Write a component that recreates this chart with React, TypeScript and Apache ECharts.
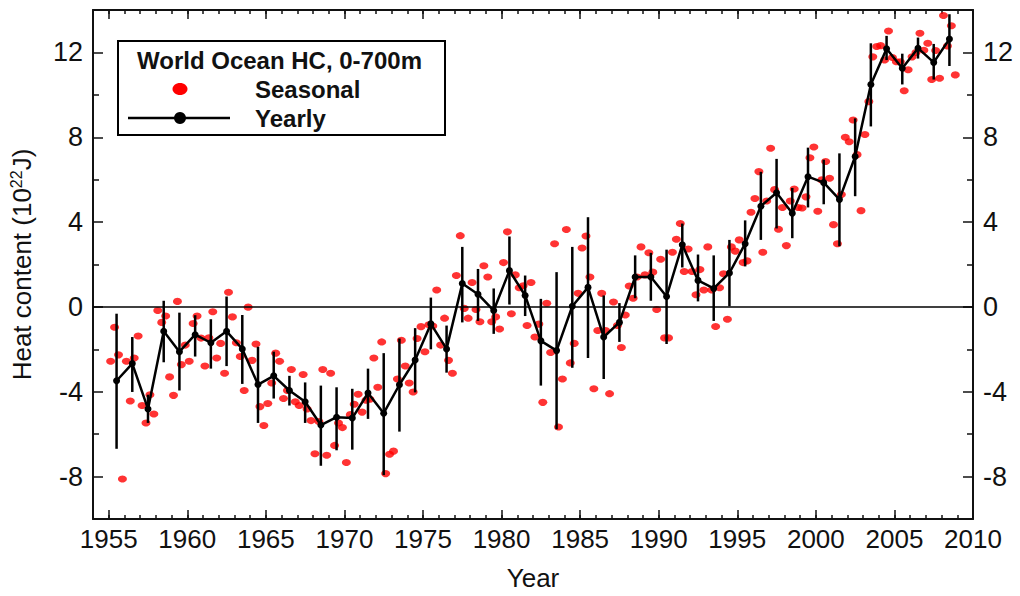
import React, { useEffect, useRef } from "react";
import * as echarts from "echarts";

// ---------- data ----------
const years = [
  1955, 1956, 1957, 1958, 1959, 1960, 1961, 1962, 1963, 1964,
  1965, 1966, 1967, 1968, 1969, 1970, 1971, 1972, 1973, 1974,
  1975, 1976, 1977, 1978, 1979, 1980, 1981, 1982, 1983, 1984,
  1985, 1986, 1987, 1988, 1989, 1990, 1991, 1992, 1993, 1994,
  1995, 1996, 1997, 1998, 1999, 2000, 2001, 2002, 2003, 2004,
  2005, 2006, 2007, 2008,
];

const yearlyHC = [
  -3.48, -2.67, -4.81, -1.15, -2.11, -1.31, -1.69, -1.15, -1.98, -3.66,
  -3.25, -3.94, -4.47, -5.57, -5.2, -5.24, -4.06, -5.01, -3.67, -2.5,
  -0.8, -1.98, 1.1, 0.6, -0.17, 1.71, 0.54, -1.6, -2.06, 0.03,
  0.92, -1.42, -0.73, 1.41, 1.41, 0.49, 2.93, 1.25, 0.87, 1.6,
  2.98, 4.75, 5.38, 4.42, 6.14, 5.86, 5.07, 7.09, 10.49, 12.17,
  11.25, 12.2, 11.53, 12.63,
];

const yearlyLow = [
  -6.69, -4.01, -5.47, -2.61, -3.94, -2.34, -2.91, -2.79, -3.63, -5.47,
  -4.32, -4.65, -5.47, -7.49, -6.76, -6.73, -5.28, -7.93, -5.88, -4.03,
  -2.0, -3.1, -0.73, -0.66, -1.27, 0.11, -0.43, -3.71, -5.77, -2.87,
  -2.41, -3.4, -1.65, 0.41, 0.29, -1.75, 1.86, 0.26, -0.66, 0.03,
  1.91, 3.16, 3.7, 3.24, 4.69, 4.84, 2.86, 5.22, 8.51, 11.64,
  10.49, 11.71, 10.72, 11.36,
];

const yearlyHigh = [
  -0.32, -1.42, -4.14, 0.29, -0.27, -0.39, -0.58, 0.49, -0.38, -1.88,
  -2.11, -3.25, -3.56, -3.71, -3.79, -3.86, -2.91, -2.18, -1.49, -1.0,
  0.44, -0.88, 2.83, 1.79, 0.87, 3.32, 1.48, 0.38, 1.64, 2.83,
  4.23, 0.54, 0.18, 2.43, 2.55, 2.7, 3.93, 2.47, 2.43, 3.16,
  4.08, 6.37, 6.98, 5.61, 7.51, 6.94, 7.24, 8.89, 12.43, 12.78,
  11.94, 12.7, 12.4, 13.8,
];

// four seasonal values per year
const seasonalHC = [
  [-2.56, -0.96, -2.26, -8.11],
  [-2.56, -4.44, -2.41, -1.37],
  [-4.65, -5.47, -4.14, -5.05],
  [-0.17, -0.73, -0.43, -3.3],
  [-4.17, 0.26, -2.72, -1.8],
  [-2.56, -0.78, -0.43, -1.47],
  [-2.79, -1.45, -0.23, -2.41],
  [-1.72, -3.13, 0.69, -0.47],
  [-1.69, -2.34, -3.94, -0.01],
  [-2.52, -1.75, -4.7, -5.59],
  [-4.55, -3.59, -2.18, -2.56],
  [-4.32, -3.94, -2.95, -4.47],
  [-4.65, -3.19, -4.81, -5.36],
  [-6.92, -5.4, -2.95, -6.99],
  [-3.13, -6.53, -5.47, -5.69],
  [-7.34, -5.08, -4.59, -4.12],
  [-4.96, -4.4, -4.35, -2.41],
  [-3.79, -1.65, -7.86, -6.95],
  [-6.8, -3.4, -1.57, -2.79],
  [-3.59, -4.01, -1.49, -0.93],
  [-2.11, -0.84, -0.9, 0.8],
  [-1.8, -0.53, -2.52, -3.13],
  [1.48, 3.36, -0.07, -0.53],
  [1.15, -0.12, -0.7, 1.94],
  [1.41, -0.7, -0.47, -1.04],
  [2.09, 3.54, -0.32, 1.51],
  [0.9, 1.0, -0.88, 1.15],
  [-1.42, -0.81, -4.5, 0.17],
  [-2.15, 2.98, -5.66, -3.4],
  [3.65, -2.64, -1.72, 0.64],
  [2.78, 3.34, 1.41, -3.86],
  [-1.11, 0.64, -1.11, -4.09],
  [0.23, -0.88, -1.91, -0.38],
  [0.99, 0.41, 1.41, 2.83],
  [1.51, 2.55, 1.64, -0.12],
  [2.25, -1.46, -1.46, 2.58],
  [3.19, 3.93, 1.67, 2.73],
  [1.67, 0.57, 1.76, 0.8],
  [2.83, 0.8, -0.92, 0.9],
  [1.56, -0.58, 2.83, 2.63],
  [3.16, 2.09, 2.17, 4.46],
  [5.11, 6.38, 2.58, 4.99],
  [7.48, 5.53, 3.66, 4.69],
  [2.89, 4.99, 5.56, 4.69],
  [4.66, 5.19, 7.03, 7.54],
  [4.51, 5.99, 6.86, 6.07],
  [3.88, 2.98, 5.3, 8.0],
  [7.79, 8.81, 7.18, 4.54],
  [8.13, 9.68, 11.79, 12.28],
  [12.32, 11.64, 13.01, 11.76],
  [11.56, 11.56, 10.19, 11.18],
  [11.79, 12.0, 12.9, 12.1],
  [12.43, 10.72, 12.09, 10.78],
  [13.74, 12.3, 13.26, 10.94],
];

const seasonOffsets = [0.125, 0.375, 0.625, 0.875];
const yearOffset = 0.5;

const xMajorTicks = [1955, 1960, 1965, 1970, 1975, 1980, 1985, 1990, 1995, 2000, 2005, 2010];
const xMinorTicks = [
  1955, 1956, 1957, 1958, 1959, 1960, 1961, 1962, 1963, 1964,
  1965, 1966, 1967, 1968, 1969, 1970, 1971, 1972, 1973, 1974,
  1975, 1976, 1977, 1978, 1979, 1980, 1981, 1982, 1983, 1984,
  1985, 1986, 1987, 1988, 1989, 1990, 1991, 1992, 1993, 1994,
  1995, 1996, 1997, 1998, 1999, 2000, 2001, 2002, 2003, 2004,
  2005, 2006, 2007, 2008, 2009,
];
const yMajorTicks = [-8, -4, 0, 4, 8, 12];
const yMinorTicks = [-6, -2, 2, 6, 10];

const X_MIN = 1954;
const X_MAX = 2010;
const Y_MIN = -10;
const Y_MAX = 14;

const FONT = "'Liberation Sans', Arial, Helvetica, sans-serif";
const INK = "#111";

export default function App() {
  const ref = useRef<HTMLDivElement>(null);

  useEffect(() => {
    if (!ref.current) return;
    const chart = echarts.init(ref.current, undefined, { renderer: "svg" });

    const seasonalData: number[][] = [];
    years.forEach((yr, i) => {
      seasonalHC[i].forEach((v, k) => {
        seasonalData.push([yr + seasonOffsets[k], v]);
      });
    });
    const yearlyData = years.map((yr, i) => [yr + yearOffset, yearlyHC[i]]);
    const errData = years.map((yr, i) => [yr + yearOffset, yearlyLow[i], yearlyHigh[i]]);

    const baseX = (position: string, show: boolean, tickVals: number[], len: number, labels: boolean, extra: any = {}) => ({
      type: "value",
      position,
      min: X_MIN,
      max: X_MAX,
      axisLine: { show, onZero: false, lineStyle: { color: INK, width: 2 } },
      axisTick: { show: true, inside: true, length: len, customValues: tickVals, lineStyle: { color: INK, width: 1.5 } },
      axisLabel: labels
        ? {
            show: true,
            customValues: xMajorTicks,
            formatter: (v: number) => String(Math.round(v)),
            fontSize: 26,
            fontFamily: FONT,
            color: INK,
            margin: 7,
          }
        : { show: false },
      splitLine: { show: false },
      ...extra,
    });

    const baseY = (position: string, show: boolean, tickVals: number[], len: number, labels: boolean, extra: any = {}) => ({
      type: "value",
      position,
      min: Y_MIN,
      max: Y_MAX,
      axisLine: { show, onZero: false, lineStyle: { color: INK, width: 2 } },
      axisTick: { show: true, inside: true, length: len, customValues: tickVals, lineStyle: { color: INK, width: 1.5 } },
      axisLabel: labels
        ? {
            show: true,
            customValues: yMajorTicks,
            formatter: (v: number) => String(Math.round(v)),
            fontSize: 27,
            fontFamily: FONT,
            color: INK,
            margin: 10,
          }
        : { show: false },
      splitLine: { show: false },
      ...extra,
    });

    chart.setOption({
      animation: false,
      backgroundColor: "#fff",
      grid: { left: 87, top: 10, width: 886, height: 524, containLabel: false },
      xAxis: [
        baseX("bottom", true, xMinorTicks, 4, true, {
          name: "Year",
          nameLocation: "middle",
          nameGap: 46,
          nameTextStyle: { fontSize: 26, fontFamily: FONT, color: INK },
        }),
        baseX("bottom", false, xMajorTicks, 9, false),
        baseX("top", true, xMinorTicks, 4, false),
        baseX("top", false, xMajorTicks, 9, false),
      ],
      yAxis: [
        baseY("left", true, yMajorTicks, 10, true, {
          name: "Heat content (10{sup|22}J)",
          nameLocation: "middle",
          nameGap: 57,
          nameRotate: 90,
          nameTextStyle: {
            fontSize: 26,
            fontFamily: FONT,
            color: INK,
            rich: {
              sup: { fontSize: 16, fontFamily: FONT, color: INK, verticalAlign: "bottom", padding: [0, 0, 12, 0] },
            },
          },
        }),
        baseY("left", false, yMinorTicks, 6, false),
        baseY("right", true, yMajorTicks, 10, true),
        baseY("right", false, yMinorTicks, 6, false),
      ],
      series: [
        {
          name: "Seasonal",
          type: "scatter",
          xAxisIndex: 0,
          yAxisIndex: 0,
          data: seasonalData,
          symbol: "circle",
          symbolSize: [9, 7],
          itemStyle: { color: "#ff0000" },
          z: 2,
        },
        {
          name: "Error",
          type: "custom",
          xAxisIndex: 0,
          yAxisIndex: 0,
          data: errData,
          encode: { x: 0, y: [1, 2] },
          renderItem: (_params: any, api: any) => {
            const x = api.value(0);
            const p1 = api.coord([x, api.value(1)]);
            const p2 = api.coord([x, api.value(2)]);
            return {
              type: "line",
              shape: { x1: p1[0], y1: p1[1], x2: p2[0], y2: p2[1] },
              style: { stroke: "#000", lineWidth: 2.5 },
            };
          },
          z: 3,
        },
        {
          name: "Yearly",
          type: "line",
          xAxisIndex: 0,
          yAxisIndex: 0,
          data: yearlyData,
          symbol: "circle",
          symbolSize: 7,
          showSymbol: true,
          lineStyle: { color: "#000", width: 2.5 },
          itemStyle: { color: "#000" },
          z: 4,
          markLine: {
            silent: true,
            symbol: "none",
            label: { show: false },
            lineStyle: { color: "#000", width: 1.5, type: "solid" },
            data: [{ yAxis: 0 }],
          },
        },
      ],
      graphic: [
        {
          type: "rect",
          shape: { x: 118, y: 41, width: 327, height: 94 },
          style: { fill: "#fff", stroke: "#000", lineWidth: 2 },
          z: 10,
        },
        {
          type: "text",
          x: 137,
          y: 60,
          style: { text: "World Ocean HC, 0-700m", font: `bold 24px ${FONT}`, fill: INK, verticalAlign: "middle" },
          z: 11,
        },
        {
          type: "ellipse",
          shape: { cx: 180, cy: 89, rx: 7.5, ry: 6 },
          style: { fill: "#ff0000" },
          z: 11,
        },
        {
          type: "text",
          x: 255,
          y: 89,
          style: { text: "Seasonal", font: `bold 24px ${FONT}`, fill: INK, verticalAlign: "middle" },
          z: 11,
        },
        {
          type: "line",
          shape: { x1: 128, y1: 118, x2: 230, y2: 118 },
          style: { stroke: "#000", lineWidth: 2.5 },
          z: 11,
        },
        {
          type: "circle",
          shape: { cx: 180, cy: 118, r: 6 },
          style: { fill: "#000" },
          z: 12,
        },
        {
          type: "text",
          x: 255,
          y: 118,
          style: { text: "Yearly", font: `bold 24px ${FONT}`, fill: INK, verticalAlign: "middle" },
          z: 11,
        },
      ],
    });

    return () => chart.dispose();
  }, []);

  return (
    <div
      ref={ref}
      style={{ position: "fixed", left: 0, top: 0, width: 1020, height: 596, background: "#fff" }}
    />
  );
}
